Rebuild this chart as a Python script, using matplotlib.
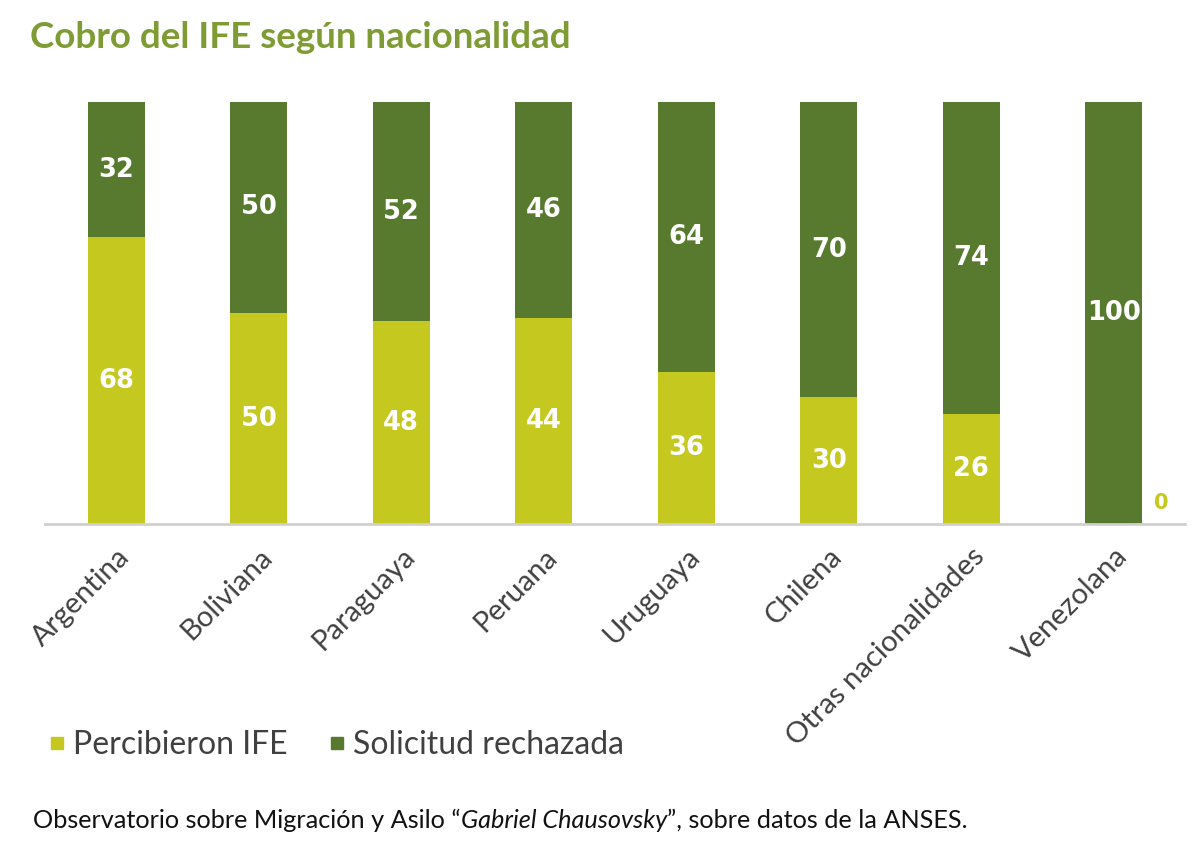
import matplotlib
matplotlib.use("Agg")
import matplotlib.pyplot as plt
from matplotlib.lines import Line2D
import numpy as np

categories = ["Argentina", "Boliviana", "Paraguaya", "Peruana", "Uruguaya",
              "Chilena", "Otras nacionalidades", "Venezolana"]
percibieron = [68, 50, 48, 44, 36, 30, 26, 0]
rechazada = [32, 50, 52, 46, 64, 70, 74, 100]

LIGHT = "#c4c81f"
DARK = "#587a2f"
TITLE_C = "#7e9c33"
TEXT_C = "#404040"

plt.rcParams['font.family'] = ['Lato', 'DejaVu Sans']

fig = plt.figure(figsize=(12, 8.58), dpi=100)
ax = fig.add_axes([45/1200, 1-524/858, 1140/1200, 422/858])

p = np.array(percibieron, dtype=float)
r = np.array(rechazada, dtype=float)
tot = p + r
ps = p / tot * 100
rs = r / tot * 100
x = np.arange(len(categories))
w = 0.4

ax.bar(x, ps, w, color=LIGHT, label="Percibieron IFE")
ax.bar(x, rs, w, bottom=ps, color=DARK, label="Solicitud rechazada")

VAL_FONT = ['DejaVu Sans']
for i in range(len(categories)):
    if p[i] > 0:
        ax.text(x[i], ps[i] / 2, f"{percibieron[i]}", ha='center', va='center',
                color='white', fontsize=18.5, fontweight='bold', family=VAL_FONT)
    else:
        ax.text(x[i] + 0.33, 5, f"{percibieron[i]}", ha='center', va='center',
                color=LIGHT, fontsize=15, fontweight='bold', family=VAL_FONT)
    ax.text(x[i], ps[i] + rs[i] / 2, f"{rechazada[i]}", ha='center', va='center',
            color='white', fontsize=18.5, fontweight='bold', family=VAL_FONT)

ax.set_xlim(-0.5, len(categories) - 0.5)
ax.set_ylim(0, 100)
ax.set_yticks([])
ax.set_xticks(x)
ax.set_xticklabels(categories, rotation=45, ha='right', rotation_mode='anchor',
                   fontsize=21, color=TEXT_C)
ax.tick_params(axis='x', length=0, pad=14)
for s in ['top', 'right', 'left']:
    ax.spines[s].set_visible(False)
ax.spines['bottom'].set_color('#d0d0d0')
ax.spines['bottom'].set_linewidth(2)

fig.text(30/1200, 1-37/858, "Cobro del IFE según nacionalidad", ha='left', va='center',
         color=TITLE_C, fontsize=26.5, fontweight='bold')

handles = [Line2D([0], [0], marker='s', linestyle='none', markersize=9,
                  markerfacecolor=LIGHT, markeredgecolor=LIGHT),
           Line2D([0], [0], marker='s', linestyle='none', markersize=9,
                  markerfacecolor=DARK, markeredgecolor=DARK)]
leg = fig.legend(handles, ["Percibieron IFE", "Solicitud rechazada"],
                 loc='center left', bbox_to_anchor=(20/1200, 1-745/858), ncol=2,
                 frameon=False, fontsize=23, handlelength=0.5, handletextpad=0.25,
                 columnspacing=1.3, labelcolor=TEXT_C)

FOOT = 18.2
t1 = fig.text(33/1200, 1-820/858, "Observatorio sobre Migración y Asilo “",
              ha='left', va='center', color='#111111', fontsize=FOOT)
t2 = fig.text(0, 0, "Gabriel Chausovsky", ha='left', va='bottom', color='#111111',
              fontsize=FOOT, style='italic')
fig.canvas.draw()
r_ = fig.canvas.get_renderer()
bb = t1.get_window_extent(r_)
t2.set_position((bb.x1 / fig.bbox.width, bb.y0 / fig.bbox.height))
fig.canvas.draw()
bb2 = t2.get_window_extent(r_)
fig.text(bb2.x1 / fig.bbox.width, bb.y0 / fig.bbox.height,
         "”, sobre datos de la ANSES.", ha='left', va='bottom', color='#111111',
         fontsize=FOOT)

fig.savefig("out.png", dpi=100, facecolor='white')
